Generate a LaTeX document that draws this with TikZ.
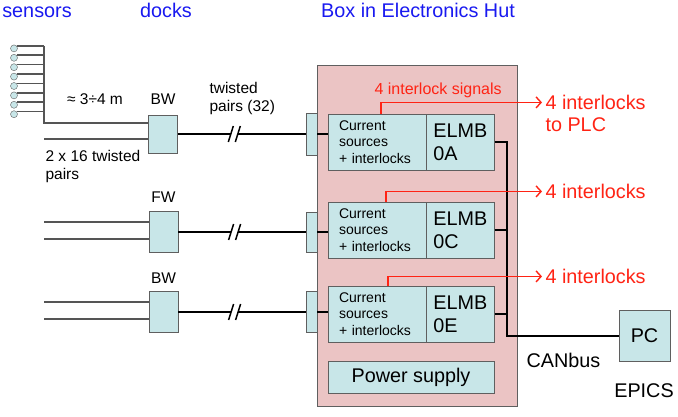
\documentclass[tikz,border=0pt]{standalone}
\usepackage{fontspec}
\setmainfont{Liberation Sans}
\usetikzlibrary{positioning,calc,arrows.meta}

\definecolor{boxcyan}{RGB}{200,230,232}
\definecolor{hutpink}{RGB}{235,196,196}
\definecolor{edgegray}{RGB}{95,95,95}
\definecolor{wiregray}{RGB}{85,85,85}
\definecolor{titleblue}{RGB}{25,25,240}
\definecolor{sigred}{RGB}{255,35,20}

\tikzset{
  unit/.style={draw=edgegray, fill=boxcyan, rectangle, inner sep=0pt},
  big/.style={font=\fontsize{19.8}{23}\selectfont},
  mid/.style={font=\fontsize{15.5}{18.5}\selectfont},
  small/.style={font=\fontsize{14}{16.3}\selectfont},
  wire/.style={draw=wiregray, line width=1.5pt},
  cable/.style={line width=2.8pt},
  signal/.style={draw=sigred, line width=1.4pt, -{Straight Barb[length=5pt,width=11pt]}}
}

\begin{document}
\begin{tikzpicture}[x=1pt, y=-1pt]
    \useasboundingbox (0,0) rectangle (678,417);

    % headings
    \node[big, titleblue, anchor=base] (hsens) at (37,18) {sensors};
    \node[big, titleblue, anchor=base] (hdock) at (166,18) {docks};
    \node[big, titleblue, anchor=base] (hhut) at (418,18) {Box in Electronics Hut};

    \node[draw=edgegray, fill=hutpink, rectangle, minimum width=200, minimum height=341] (hut) at (417,235.5) {};

    % docks and feed-throughs
    \node[unit, minimum width=29, minimum height=38] (dockA) at (163,134) {};
    \node[unit, minimum width=29, minimum height=41] (dockB) at (163.5,232) {};
    \node[unit, minimum width=29, minimum height=41] (dockC) at (163.5,312) {};
    \node[unit, minimum width=11, minimum height=42] (conA) at (311.5,134) {};
    \node[unit, minimum width=11, minimum height=40] (conB) at (311.5,232) {};
    \node[unit, minimum width=11, minimum height=41] (conC) at (311.5,312) {};

    \node[mid, anchor=base] (lblA) at (163,105) {BW};
    \node[mid, anchor=base] (lblB) at (163.5,203) {FW};
    \node[mid, anchor=base] (lblC) at (163.5,283) {BW};

    % crates
    \foreach \r/\y/\n in {A/142/0A, B/230/0C, C/314/0E} {
        \node[unit, small, minimum width=98, minimum height=56, text width=76, align=left] (src\r) at (377,\y) {Current\\sources\\+ interlocks};
        \node[unit, big, minimum width=68, minimum height=56, align=left, anchor=west] (elmb\r) at (src\r.east) {ELMB\\\n};
    }
    \node[unit, big, minimum width=166, minimum height=32] (psu) at (411,377) {Power supply};
    \node[unit, big, minimum width=51, minimum height=51] (pc) at (644.5,336) {PC};

    % sensors
    \coordinate (hub) at (44,123);
    \foreach \i in {1,...,8} {
        \node[circle, draw=edgegray, fill=boxcyan, minimum size=7, inner sep=0pt] (s\i) at (14,39+9.4*\i) {};
        \draw[wire] (s\i.north east) -- (s\i.north east -| hub);
    }
    \draw[wire] (s1.north east -| hub) -- (hub) -- (hub -| dockA.west);
    \foreach \y/\d in {139/dockA, 222/dockB, 239/dockB, 302/dockC, 319/dockC} {
        \coordinate (w) at (44,\y);
        \draw[wire] (w) -- (w -| \d.west);
    }

    \node[mid, anchor=base] (dist) at (95,105) {≈ 3÷4 m};
    \node[mid, anchor=base west, align=left] (bundle) at (42,180) {2 x 16 twisted\\pairs};
    \node[mid, anchor=base west, align=left] (tpairs) at (206,112) {twisted\\pairs (32)};

    % long cables with break marks
    \coordinate (bus) at (507,336);
    \foreach \r in {A,B,C} {
        \coordinate (brk) at ($(dock\r.east)!0.442!(con\r.west)$);
        \draw[cable] (dock\r.east) -- ([xshift=-3.5]brk);
        \draw[cable] ([xshift=3.5]brk) -- (con\r.west);
        \draw[line width=1.5pt] ([shift={(-6,8)}]brk) -- ([shift={(-1,-8)}]brk)
                                ([shift={(1,8)}]brk) -- ([shift={(6,-8)}]brk);
        \draw[cable] (con\r.east) -- (con\r.east -| src\r.west);
    }

    % CANbus
    \draw[cable] (elmbA.east) -| (bus) -- (pc.west);
    \draw[cable] (elmbB.east) -- (elmbB.east -| bus);
    \draw[cable] (elmbC.east) -- (elmbC.east -| bus);
    \node[big, anchor=base] (can) at (563.5,367) {CANbus};
    \node[big, anchor=base] (epics) at (644,397) {EPICS};

    % interlocks
    \node[font=\fontsize{16}{19}\selectfont, sigred, anchor=base west] (sigs) at (371,95) {4 interlock signals};
    \node[big, sigred, anchor=base west] (plcA) at (542,109.5) {4 interlocks};
    \node[big, sigred, anchor=base west] (plcA2) at (542,132) {to PLC};
    \node[big, sigred, anchor=base west] (plcB) at (542,198.5) {4 interlocks};
    \node[big, sigred, anchor=base west] (plcC) at (542,283.5) {4 interlocks};
    \foreach \r/\dx in {A/4, B/9, C/11}
        \draw[signal] ([xshift=\dx]src\r.north) |- (plc\r.west);
\end{tikzpicture}
\end{document}
